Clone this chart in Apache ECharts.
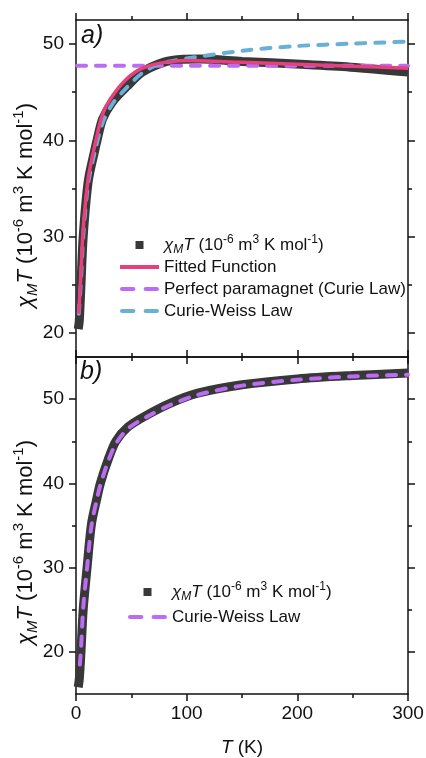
<!DOCTYPE html>
<html>
<head>
<meta charset="utf-8">
<script src="https://cdn.jsdelivr.net/npm/echarts@6/dist/echarts.min.js"></script>
<style>
  html, body { margin: 0; padding: 0; background: #fff; }
  #chart { width: 426px; height: 758px; }
</style>
</head>
<body>
<div id="chart"></div>
<script>
// panel a) -- [T (K), chiM*T]
const dataA = [[2, 20.4], [3, 21.3], [4.5, 25], [6.5, 30], [11, 35.7], [17, 39], [19, 40], [24, 42.2], [33, 44], [46, 45.6], [60, 47.1], [79, 48.1], [94, 48.4], [112, 48.45], [150, 48.2], [203, 47.9], [248, 47.6], [300, 47.1]];
const fitA = [[2.5, 22], [4.5, 26.3], [6.5, 30.8], [11, 36], [17, 39.5], [24, 42.7], [31, 44.3], [45, 46.3], [60, 47.5], [80, 48.1], [100, 48.3], [150, 48.1], [200, 47.9], [250, 47.7], [300, 47.5]];
const curieA = [[1, 47.75], [300, 47.75]];
const weissA = [[2.5, 22], [4.5, 25.5], [6.5, 30], [11, 35.5], [17, 38.8], [24, 41.8], [33, 43.8], [46, 45.5], [60, 47], [75, 47.9], [100, 48.5], [150, 49.3], [200, 49.8], [250, 50.05], [300, 50.25]];

// panel b)
const dataB = [[2, 15.8], [3, 16.8], [4.5, 20], [6.5, 25], [10, 30], [14, 35.2], [19, 38.3], [22, 40], [29, 42.8], [36, 45], [47, 46.7], [64, 48.1], [85, 49.5], [110, 50.7], [150, 51.7], [200, 52.4], [250, 52.8], [300, 53.1]];
const weissB = [[3.5, 18.5], [4.5, 20.3], [6.5, 25.2], [10, 30], [14, 35], [19, 38.2], [22, 39.8], [29, 42.6], [36, 44.7], [47, 46.5], [64, 47.9], [85, 49.3], [110, 50.5], [150, 51.6], [200, 52.3], [250, 52.7], [300, 52.9]];

const majorTicksA = [20, 30, 40, 50];
const minorTicksA = [25, 35, 45];
const majorTicksB = [20, 30, 40, 50];
const minorTicksB = [25, 35, 45];

const legendText = {
  dataA: '{i|χ}{sub|M}{i|T} (10{sup|-6} m{sup|3} K mol{sup|-1})',
  fitA: 'Fitted Function',
  curieA: 'Perfect paramagnet (Curie Law)',
  weissA: 'Curie-Weiss Law',
  dataB: '{i|χ}{sub|M}{i|T} (10{sup|-6} m{sup|3} K mol{sup|-1})',
  weissB: 'Curie-Weiss Law'
};

const FONT = 'Liberation Sans, Arial, sans-serif';
const DATA_COLOR = '#383838';
const PINK = '#e8407c';
const PURPLE = '#bb6cf2';
const BLUE = '#6aafd6';
// legend icons (drawn with keepAspect so they stay small)
const squareIcon = 'path://M0,0L10,0L10,10L0,10Z';
const solidIcon = 'path://M0,0L40,0L40,4L0,4Z';
const dashIcon = 'path://M2,0L13,0A2,2 0 0 1 13,4L2,4A2,2 0 0 1 2,0Z M25,0L36,0A2,2 0 0 1 36,4L25,4A2,2 0 0 1 25,0Z';

const chart = echarts.init(document.getElementById('chart'));

const legendRich = {
  i: { fontStyle: 'italic', fontSize: 17, fontFamily: FONT, color: '#111' },
  sub: { fontSize: 12, verticalAlign: 'bottom', lineHeight: 12, fontStyle: 'italic', fontFamily: FONT, color: '#111' },
  sup: { fontSize: 12, verticalAlign: 'top', lineHeight: 12, fontFamily: FONT, color: '#111' }
};
const nameRich = {
  i: { fontStyle: 'italic', fontSize: 22, fontFamily: FONT, color: '#111' },
  sub: { fontSize: 15, verticalAlign: 'bottom', lineHeight: 15, fontStyle: 'italic', fontFamily: FONT, color: '#111' },
  sup: { fontSize: 15, verticalAlign: 'top', lineHeight: 15, fontFamily: FONT, color: '#111' }
};
const xNameRich = {
  i: { fontStyle: 'italic', fontSize: 19, fontFamily: FONT, color: '#111' }
};
const yName = '{i|χ}{sub|M}{i|T} (10{sup|-6} m{sup|3} K mol{sup|-1})';

function xAxis(grid, position, labels) {
  return {
    type: 'value', gridIndex: grid, position: position,
    min: 0, max: 300, interval: 100,
    axisLine: { show: true, lineStyle: { color: '#111', width: 1.5 } },
    axisTick: { show: true, length: 7, lineStyle: { color: '#111', width: 1.5 } },
    minorTick: { show: true, splitNumber: 2, length: 4, lineStyle: { color: '#111', width: 1.5 } },
    axisLabel: { show: labels, color: '#111', fontSize: 19, fontFamily: FONT, margin: 10 },
    splitLine: { show: false },
    name: labels ? '{i|T} (K)' : '',
    nameLocation: 'middle', nameGap: 44, nameMoveOverlap: false,
    nameTextStyle: { fontSize: 19, fontFamily: FONT, color: '#111', rich: xNameRich }
  };
}

function yAxis(grid, position, min, max, ticks, major, labels) {
  return {
    type: 'value', gridIndex: grid, position: position, min: min, max: max,
    axisLine: { show: major, lineStyle: { color: '#111', width: 1.5 } },
    axisTick: { show: true, customValues: ticks, length: major ? 7 : 4, lineStyle: { color: '#111', width: 1.5 } },
    axisLabel: { show: labels, customValues: ticks, color: '#111', fontSize: 19, fontFamily: FONT, margin: 12 },
    splitLine: { show: false },
    name: labels ? yName : '',
    nameLocation: 'middle', nameGap: 36, nameMoveOverlap: false,
    nameTextStyle: { fontSize: 22, fontFamily: FONT, color: '#111', lineHeight: 29, padding: [0, 34, 0, 0], rich: nameRich }
  };
}

function line(name, data, x, y, color, width, dashed) {
  return {
    name: name, type: 'line', xAxisIndex: x, yAxisIndex: y, data: data,
    showSymbol: false, symbol: 'none', smooth: 0.3, silent: true,
    lineStyle: { color: color, width: width, type: dashed ? [9, 10] : 'solid', cap: dashed ? 'round' : 'butt' },
    itemStyle: { color: color }
  };
}

const option = {
  animation: false,
  backgroundColor: '#fff',
  grid: [
    { left: 76, top: 20, width: 332, height: 337, outerBoundsMode: 'none' },
    { left: 76, top: 357, width: 332, height: 337, outerBoundsMode: 'none' }
  ],
  xAxis: [
    xAxis(0, 'bottom', false),
    xAxis(0, 'top', false),
    xAxis(1, 'bottom', true),
    xAxis(1, 'top', false)
  ],
  yAxis: [
    yAxis(0, 'left', 17.5, 52.5, majorTicksA, true, true),
    yAxis(0, 'left', 17.5, 52.5, minorTicksA, false, false),
    yAxis(0, 'right', 17.5, 52.5, majorTicksA, true, false),
    yAxis(0, 'right', 17.5, 52.5, minorTicksA, false, false),
    yAxis(1, 'left', 15, 55, majorTicksB, true, true),
    yAxis(1, 'left', 15, 55, minorTicksB, false, false),
    yAxis(1, 'right', 15, 55, majorTicksB, true, false),
    yAxis(1, 'right', 15, 55, minorTicksB, false, false)
  ],
  legend: [
    {
      left: 115, top: 229, orient: 'vertical', itemWidth: 39, itemHeight: 8, itemGap: 0,
      selectedMode: false, symbolKeepAspect: true,
      data: [
        { name: 'dataA', icon: squareIcon },
        { name: 'fitA', icon: solidIcon },
        { name: 'curieA', icon: dashIcon },
        { name: 'weissA', icon: dashIcon }
      ],
      formatter: n => legendText[n],
      textStyle: { fontSize: 17, fontFamily: FONT, color: '#111', lineHeight: 22, rich: legendRich }
    },
    {
      left: 123, top: 576, orient: 'vertical', itemWidth: 39, itemHeight: 8, itemGap: 3,
      selectedMode: false, symbolKeepAspect: true,
      data: [
        { name: 'dataB', icon: squareIcon },
        { name: 'weissB', icon: dashIcon }
      ],
      formatter: n => legendText[n],
      textStyle: { fontSize: 17, fontFamily: FONT, color: '#111', lineHeight: 22, rich: legendRich }
    }
  ],
  graphic: [
    { type: 'text', left: 81, top: 24, style: { text: 'a)', font: 'italic 25px ' + FONT, fill: '#111' } },
    { type: 'text', left: 80, top: 360, style: { text: 'b)', font: 'italic 25px ' + FONT, fill: '#111' } }
  ],
  series: [
    line('dataA', dataA, 0, 0, DATA_COLOR, 9, false),
    line('curieA', curieA, 0, 0, PURPLE, 4, true),
    line('weissA', weissA, 0, 0, BLUE, 4, true),
    line('fitA', fitA, 0, 0, PINK, 3.5, false),
    line('dataB', dataB, 2, 4, DATA_COLOR, 9, false),
    line('weissB', weissB, 2, 4, PURPLE, 4, true)
  ]
};

chart.setOption(option);
</script>
</body>
</html>
